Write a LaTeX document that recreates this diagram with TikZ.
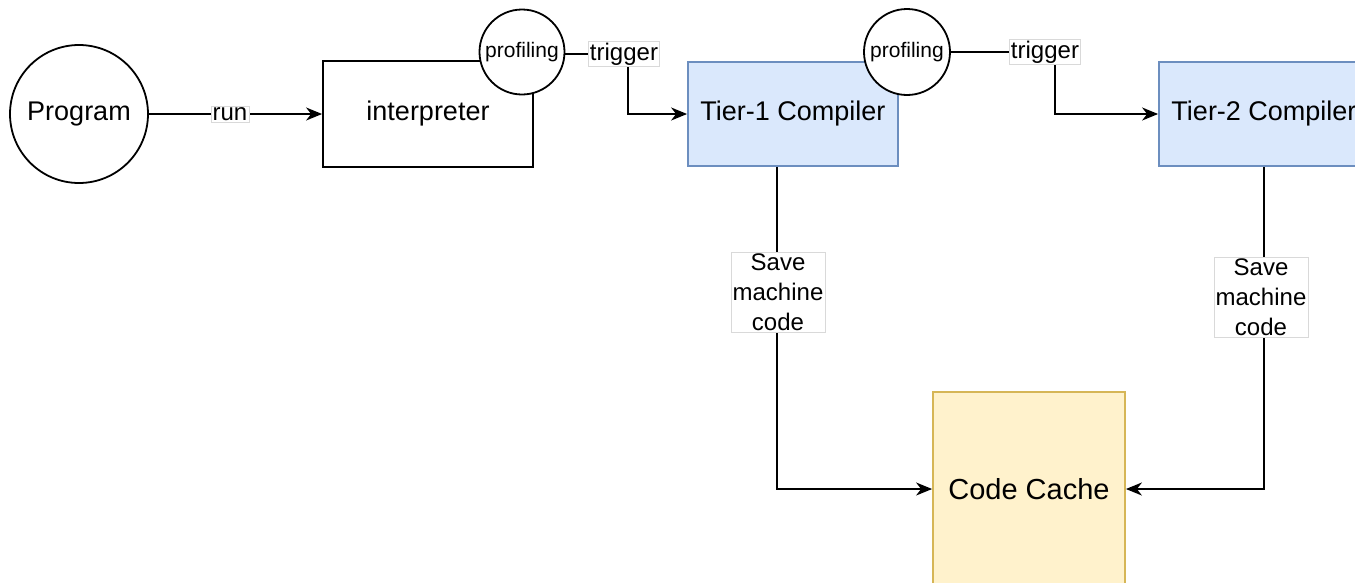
\documentclass[tikz,border=0pt]{standalone}
\usepackage{fontspec}
\setmainfont{Liberation Sans}
\usetikzlibrary{arrows.meta}
\definecolor{blueFill}{HTML}{DAE8FC}
\definecolor{blueLine}{HTML}{6C8EBF}
\definecolor{yelFill}{HTML}{FFF2CC}
\definecolor{yelLine}{HTML}{D6B656}
\definecolor{lblLine}{HTML}{D9D9D9}
\tikzset{
  big/.style={font=\fontsize{27}{32}\selectfont},
  ring/.style={circle, draw=black, line width=1.8pt, fill=white, inner sep=0pt},
  plainbox/.style={rectangle, draw=black, line width=1.8pt, fill=white, inner sep=0pt, big},
  compbox/.style={rectangle, draw=blueLine, line width=1.8pt, fill=blueFill, inner sep=0pt,
                  minimum width=210pt, minimum height=104pt, big},
  lbl/.style={rectangle, draw=lblLine, line width=0.6pt, fill=white, inner sep=1.5pt,
              font=\fontsize{24}{30}\selectfont, align=center},
  arr/.style={line width=1.8pt, -{Stealth[length=16pt, width=13pt, inset=5pt]}},
}
\begin{document}
\begin{tikzpicture}[x=1pt, y=-1pt]
\useasboundingbox (0,0) rectangle (1355,582);
\clip (0,0) rectangle (1355,582);

% main blocks
\node[ring, minimum size=138pt, big] (prog) at (79,114) {Program};
\node[plainbox, minimum width=210pt, minimum height=106pt] (interp) at (428,114) {interpreter};
\node[ring, minimum size=85pt, font=\fontsize{21}{25}\selectfont] (prof1) at (522,52) {profiling};
\node[compbox] (tier1) at (793,114) {Tier-1 Compiler};
\node[ring, minimum size=86pt, font=\fontsize{21}{25}\selectfont] (prof2) at (907,52) {profiling};
\node[compbox] (tier2) at (1264,114) {Tier-2 Compiler};
\node[rectangle, draw=yelLine, line width=1.8pt, fill=yelFill, inner sep=0pt,
      minimum width=192pt, minimum height=194pt, font=\fontsize{29}{34}\selectfont]
      (cache) at (1029,489) {Code Cache};

% bends of the connectors
\coordinate (k1) at (628,54);
\coordinate (k2) at (1055,52);
\coordinate (s1) at (777,292);

% connectors
\draw[arr] (prog.east) -- (interp.west);
\draw[arr] (prof1.east |- k1) -- (k1) |- (tier1.west);
\draw[arr] (prof2.east) -- (k2) |- (tier2.west);
\draw[arr] (s1 |- tier1.south) |- (cache.west);
\draw[arr] (tier2.south) |- (cache.east);

% connector labels
\node[lbl] (run) at (230,114) {run};
\node[lbl] (trig1) at (624,54) {trigger};
\node[lbl] (trig2) at (1045,52) {trigger};
\node[lbl] (save1) at (778,292) {Save\\machine\\code};
\node[lbl] (save2) at (1261,297) {Save\\machine\\code};
\end{tikzpicture}
\end{document}
